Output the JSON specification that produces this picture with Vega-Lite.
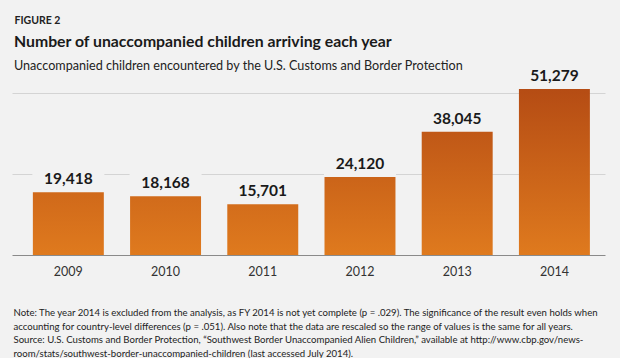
{
  "$schema": "https://vega.github.io/schema/vega-lite/v6.json",
  "width": 593,
  "height": 178,
  "autosize": {"type": "none"},
  "padding": {"left": 12, "top": 77, "right": 15, "bottom": 103},
  "background": "#f2f2f2",
  "config": {
    "view": {"stroke": null},
    "font": "Lato"
  },
  "title": {
    "text": "Number of unaccompanied children arriving each year",
    "subtitle": "Unaccompanied children encountered by the U.S. Customs and Border Protection",
    "anchor": "start",
    "frame": "group",
    "dx": 2,
    "offset": -58.5,
    "font": "Lato",
    "fontSize": 15.8,
    "fontWeight": "bold",
    "color": "#1a1a1a",
    "subtitleFont": "Lato",
    "subtitleFontSize": 12.6,
    "subtitleColor": "#222222",
    "subtitlePadding": 9
  },
  "data": {
    "values": [
      {"year": "2009", "children": 19418},
      {"year": "2010", "children": 18168},
      {"year": "2011", "children": 15701},
      {"year": "2012", "children": 24120},
      {"year": "2013", "children": 38045},
      {"year": "2014", "children": 51279}
    ]
  },
  "encoding": {
    "x": {
      "field": "year",
      "type": "nominal",
      "sort": null,
      "scale": {"paddingInner": 0.27, "paddingOuter": 0.185, "align": 0.58},
      "axis": {
        "labelAngle": 0,
        "labelFontSize": 12.5,
        "labelColor": "#333333",
        "labelPadding": 10,
        "ticks": false,
        "domainColor": "#8a8a8a",
        "domainWidth": 1,
        "title": [
          "Note: The year 2014 is excluded from the analysis, as FY 2014 is not yet complete (p = .029). The significance of the result even holds when",
          "accounting for country-level differences (p = .051). Also note that the data are rescaled so the range of values is the same for all years.",
          "Source: U.S. Customs and Border Protection, \u201cSouthwest Border Unaccompanied Alien Children,\u201d available at http://www.cbp.gov/news-",
          "room/stats/southwest-border-unaccompanied-children (last accessed July 2014)."
        ],
        "titleFont": "Lato",
        "titleFontSize": 9.6,
        "titleFontWeight": "normal",
        "titleColor": "#222222",
        "titleAlign": "left",
        "titleAnchor": "start",
        "titleBaseline": "alphabetic",
        "titleX": 1,
        "titleY": 60.6,
        "titleLineHeight": 13.5
      }
    },
    "y": {
      "field": "children",
      "type": "quantitative",
      "scale": {"domain": [0, 55000], "nice": false},
      "axis": {
        "values": [25000, 50000],
        "labels": false,
        "ticks": false,
        "domain": false,
        "grid": true,
        "gridColor": "#d4d4d4",
        "gridWidth": 1,
        "title": "FIGURE 2",
        "titleAngle": 0,
        "titleAlign": "left",
        "titleBaseline": "alphabetic",
        "titleX": 2,
        "titleY": -54,
        "titleFont": "Lato",
        "titleFontSize": 10.5,
        "titleFontWeight": "bold",
        "titleColor": "#222222"
      }
    }
  },
  "layer": [
    {
      "mark": {"type": "tick", "size": 72, "thickness": 24, "yOffset": -12, "color": "#f2f2f2", "opacity": 1}
    },
    {
      "mark": {"type": "bar"},
      "encoding": {
        "color": {
          "condition": [
            {"test": "datum.year === '2009'", "value": {"gradient": "linear", "x1": 0, "y1": 0, "x2": 0, "y2": 1, "stops": [{"offset": 0, "color": "#d0691a"}, {"offset": 1, "color": "#df7a1e"}]}},
            {"test": "datum.year === '2010'", "value": {"gradient": "linear", "x1": 0, "y1": 0, "x2": 0, "y2": 1, "stops": [{"offset": 0, "color": "#d16b1b"}, {"offset": 1, "color": "#df7a1e"}]}},
            {"test": "datum.year === '2011'", "value": {"gradient": "linear", "x1": 0, "y1": 0, "x2": 0, "y2": 1, "stops": [{"offset": 0, "color": "#d36d1b"}, {"offset": 1, "color": "#df7a1e"}]}},
            {"test": "datum.year === '2012'", "value": {"gradient": "linear", "x1": 0, "y1": 0, "x2": 0, "y2": 1, "stops": [{"offset": 0, "color": "#cb6419"}, {"offset": 1, "color": "#df7a1e"}]}},
            {"test": "datum.year === '2013'", "value": {"gradient": "linear", "x1": 0, "y1": 0, "x2": 0, "y2": 1, "stops": [{"offset": 0, "color": "#c05817"}, {"offset": 1, "color": "#df7a1e"}]}}
          ],
          "value": {"gradient": "linear", "x1": 0, "y1": 0, "x2": 0, "y2": 1, "stops": [{"offset": 0, "color": "#b54c14"}, {"offset": 1, "color": "#df7a1e"}]}
        }
      }
    },
    {
      "mark": {"type": "text", "dy": -8, "baseline": "alphabetic", "font": "Lato", "fontSize": 15.5, "fontWeight": "bold", "color": "#1a1a1a"},
      "encoding": {
        "text": {"field": "children", "type": "quantitative", "format": ","}
      }
    }
  ]
}
